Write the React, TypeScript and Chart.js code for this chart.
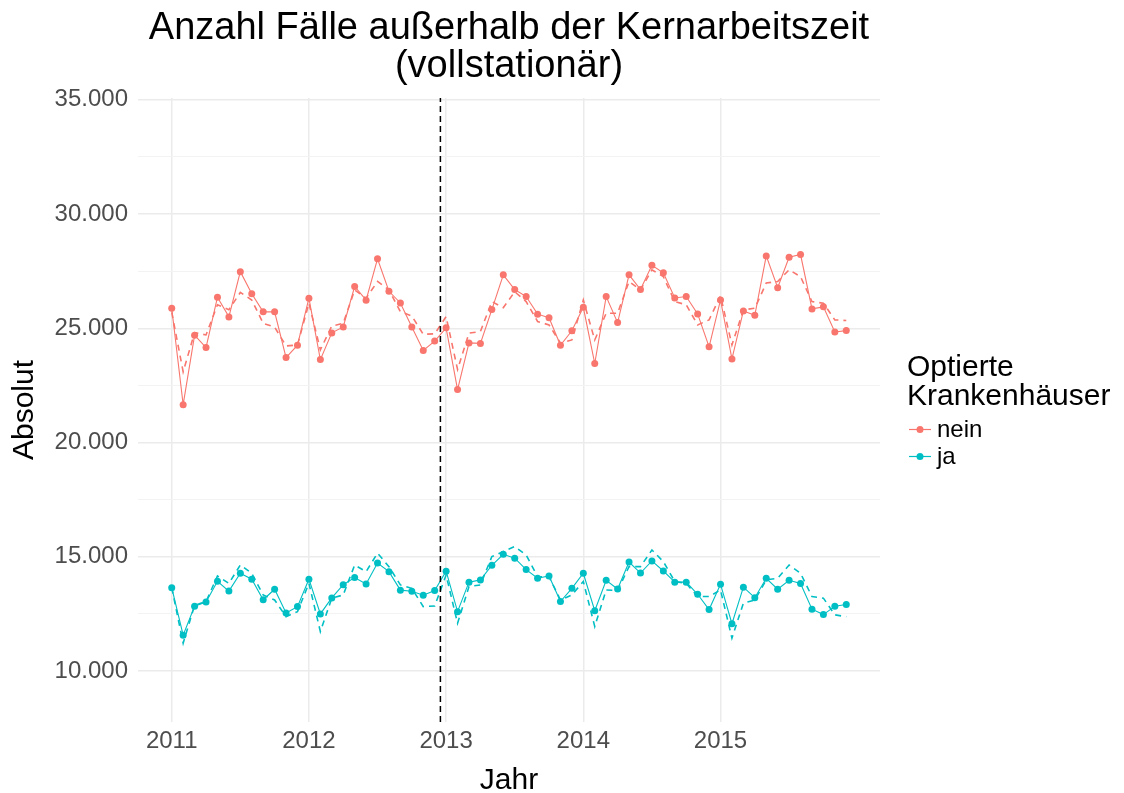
import React, { useEffect, useRef } from "react";
import { Chart, registerables } from "chart.js";

Chart.register(...registerables);

const TITLE_LINES = ["Anzahl Fälle außerhalb der Kernarbeitszeit", "(vollstationär)"];
const X_TITLE = "Jahr";
const Y_TITLE = "Absolut";
const LEGEND_TITLE = ["Optierte", "Krankenhäuser"];
const SERIES_NAMES = ["nein", "ja"];
const COLORS = ["#F8766D", "#00BFC4"];

const MONTHS = [
  "2011-01", "2011-02", "2011-03", "2011-04", "2011-05", "2011-06", "2011-07", "2011-08", "2011-09", "2011-10", "2011-11", "2011-12",
  "2012-01", "2012-02", "2012-03", "2012-04", "2012-05", "2012-06", "2012-07", "2012-08", "2012-09", "2012-10", "2012-11", "2012-12",
  "2013-01", "2013-02", "2013-03", "2013-04", "2013-05", "2013-06", "2013-07", "2013-08", "2013-09", "2013-10", "2013-11", "2013-12",
  "2014-01", "2014-02", "2014-03", "2014-04", "2014-05", "2014-06", "2014-07", "2014-08", "2014-09", "2014-10", "2014-11", "2014-12",
  "2015-01", "2015-02", "2015-03", "2015-04", "2015-05", "2015-06", "2015-07", "2015-08", "2015-09", "2015-10", "2015-11", "2015-12",
];

const NEIN_ACTUAL = [
  25880, 21660, 24700, 24160, 26360, 25500, 27480, 26510, 25720, 25720, 23720, 24260,
  26320, 23630, 24800, 25060, 26830, 26230, 28040, 26620, 26110, 25060, 24030, 24440,
  25020, 22320, 24360, 24340, 25820, 27340, 26700, 26390, 25620, 25460, 24260, 24890,
  25920, 23460, 26390, 25250, 27340, 26700, 27760, 27430, 26330, 26390, 25630, 24190,
  26240, 23660, 25760, 25570, 28170, 26780, 28110, 28230, 25850, 25940, 24840, 24900,
];
const NEIN_FITTED = [
  25700, 23100, 24810, 24710, 26030, 25810, 26570, 26240, 25220, 25050, 24230, 24270,
  26100, 24060, 25100, 25220, 26680, 26320, 27050, 26680, 25730, 25540, 24740, 24760,
  25510, 23200, 24790, 24860, 26170, 25900, 26600, 26170, 25300, 25150, 24350, 24490,
  26240, 24490, 25660, 25660, 27050, 26680, 27560, 27260, 26170, 26030, 25150, 25370,
  26420, 24270, 25810, 25880, 26980, 27050, 27560, 27260, 26170, 26100, 25370, 25340,
];
const JA_ACTUAL = [
  13650, 11570, 12840, 13020, 13930, 13500, 14280, 14020, 13120, 13580, 12540, 12820,
  14020, 12500, 13200, 13780, 14090, 13810, 14730, 14350, 13540, 13490, 13320, 13520,
  14370, 12600, 13890, 13990, 14630, 15110, 14940, 14440, 14060, 14160, 13040, 13620,
  14280, 12640, 13970, 13590, 14770, 14290, 14820, 14380, 13890, 13890, 13360, 12690,
  13800, 12070, 13670, 13210, 14060, 13580, 13970, 13830, 12710, 12470, 12840, 12910,
];
const JA_FITTED = [
  13650, 11220, 12880, 13040, 14160, 13840, 14640, 14280, 13330, 13110, 12380, 12600,
  13840, 11730, 13190, 13330, 14640, 14350, 15160, 14570, 13770, 13620, 12820, 12850,
  14200, 12090, 13700, 13770, 15010, 15230, 15450, 15080, 14130, 14130, 13110, 13330,
  13920, 11950, 13550, 13520, 14570, 14570, 15300, 14790, 13920, 13840, 13260, 13260,
  13550, 11440, 12970, 13110, 13990, 14060, 14640, 14280, 13260, 13190, 12460, 12380,
];

const YEAR_TICKS = [0, 12, 24, 36, 48];
const YEAR_LABELS = ["2011", "2012", "2013", "2014", "2015"];
const Y_TICKS = [10000, 12500, 15000, 17500, 20000, 22500, 25000, 27500, 30000, 32500, 35000];
const CUTOFF_X = 23.5;
const X_MIN = -2.95;
const X_MAX = 61.95;
const Y_MIN = 7770;
const Y_MAX = 35080;

const FONT = '"Liberation Sans", Arial, sans-serif';

function monthPos(m: string) {
  const [y, mo] = m.split("-").map(Number);
  return (y - 2011) * 12 + (mo - 1);
}
function toPoints(vals: number[]) {
  return vals.map((v, i) => ({ x: monthPos(MONTHS[i]), y: v }));
}
function fmt(v: number) {
  const s = String(Math.round(v));
  return s.replace(/\B(?=(\d{3})+(?!\d))/g, ".");
}

const decorPlugin = {
  id: "decor",
  afterDraw(chart: any) {
    const ctx = chart.ctx as CanvasRenderingContext2D;
    const area = chart.chartArea;
    ctx.save();
    ctx.fillStyle = "#000000";
    ctx.textBaseline = "alphabetic";
    ctx.textAlign = "center";
    ctx.font = `38px ${FONT}`;
    const cx = (area.left + area.right) / 2;
    ctx.fillText(TITLE_LINES[0], cx, 39);
    ctx.fillText(TITLE_LINES[1], cx, 77);

    const lx = area.right + 27;
    ctx.textAlign = "left";
    ctx.font = `30px ${FONT}`;
    ctx.fillText(LEGEND_TITLE[0], lx, 376);
    ctx.fillText(LEGEND_TITLE[1], lx, 405);

    ctx.font = `24px ${FONT}`;
    const rows = [437, 464];
    SERIES_NAMES.forEach((name, i) => {
      const by = rows[i];
      const ky = by - 7.5;
      ctx.strokeStyle = COLORS[i];
      ctx.lineWidth = 1.2;
      ctx.beginPath();
      ctx.moveTo(lx + 2, ky);
      ctx.lineTo(lx + 24, ky);
      ctx.stroke();
      ctx.fillStyle = COLORS[i];
      ctx.beginPath();
      ctx.arc(lx + 13, ky, 3.5, 0, Math.PI * 2);
      ctx.fill();
      ctx.fillStyle = "#000000";
      ctx.fillText(name, lx + 30, by);
    });
    ctx.restore();
  },
};

export default function App() {
  const canvasRef = useRef<HTMLCanvasElement | null>(null);

  useEffect(() => {
    if (!canvasRef.current) return;
    Chart.defaults.font.family = FONT;
    const solid = (vals: number[], color: string) => ({
      data: toPoints(vals),
      borderColor: color,
      backgroundColor: color,
      borderWidth: 1.1,
      pointRadius: 3.5,
      pointBorderWidth: 0,
      pointBackgroundColor: color,
      tension: 0,
    });
    const dashed = (vals: number[], color: string) => ({
      data: toPoints(vals),
      borderColor: color,
      backgroundColor: color,
      borderWidth: 1.6,
      borderDash: [6, 5],
      pointRadius: 0,
      tension: 0,
    });
    const chart = new Chart(canvasRef.current, {
      type: "line",
      data: {
        datasets: [
          {
            data: [
              { x: CUTOFF_X, y: Y_MIN },
              { x: CUTOFF_X, y: Y_MAX },
            ],
            borderColor: "#000000",
            borderWidth: 1.5,
            borderDash: [6, 4],
            pointRadius: 0,
          },
          solid(NEIN_ACTUAL, COLORS[0]),
          dashed(NEIN_FITTED, COLORS[0]),
          solid(JA_ACTUAL, COLORS[1]),
          dashed(JA_FITTED, COLORS[1]),
        ] as any,
      },
      options: {
        animation: false,
        responsive: true,
        maintainAspectRatio: false,
        devicePixelRatio: 1,
        layout: { padding: { top: 98, right: 244, bottom: 0, left: 0 } },
        plugins: {
          legend: { display: false },
          title: { display: false },
          tooltip: { enabled: false },
        },
        scales: {
          x: {
            type: "linear",
            min: X_MIN,
            max: X_MAX,
            afterBuildTicks: (axis: any) => {
              axis.ticks = YEAR_TICKS.map((v) => ({ value: v }));
            },
            afterFit: (axis: any) => {
              axis.height = 71;
            },
            ticks: {
              autoSkip: false,
              maxRotation: 0,
              color: "#4D4D4D",
              font: { size: 24 },
              padding: 5,
              callback: (_v: any, i: number) => YEAR_LABELS[i],
            },
            grid: { color: "#EBEBEB", lineWidth: 1.5, drawTicks: false },
            border: { display: false },
            title: {
              display: true,
              text: X_TITLE,
              color: "#000000",
              font: { size: 30, lineHeight: 0.8 },
              padding: 0,
            },
          },
          y: {
            type: "linear",
            min: Y_MIN,
            max: Y_MAX,
            afterBuildTicks: (axis: any) => {
              axis.ticks = Y_TICKS.map((v) => ({ value: v }));
            },
            afterFit: (axis: any) => {
              axis.width = 138;
            },
            ticks: {
              autoSkip: false,
              color: "#4D4D4D",
              font: { size: 24 },
              padding: 10,
              callback: (v: any) => (Number(v) % 5000 === 0 ? fmt(Number(v)) : ""),
            },
            grid: {
              color: (c: any) => (c.tick && c.tick.value % 5000 === 0 ? "#EBEBEB" : "#F3F3F3"),
              lineWidth: (c: any) => (c.tick && c.tick.value % 5000 === 0 ? 1.5 : 1),
              drawTicks: false,
            },
            border: { display: false },
            title: {
              display: true,
              text: Y_TITLE,
              color: "#000000",
              font: { size: 30, lineHeight: 0.8 },
              padding: { top: 12.6, bottom: 0 },
            },
          },
        },
      } as any,
      plugins: [decorPlugin],
    });
    return () => chart.destroy();
  }, []);

  return (
    <div
      style={{
        position: "absolute",
        left: 0,
        top: 0,
        width: 1124,
        height: 793,
        background: "#ffffff",
      }}
    >
      <canvas ref={canvasRef} />
    </div>
  );
}
